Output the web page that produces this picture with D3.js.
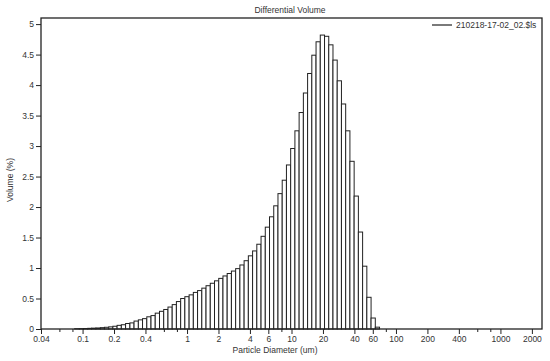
<!DOCTYPE html>
<html>
<head>
<meta charset="utf-8">
<script src="https://cdn.jsdelivr.net/npm/d3@7"></script>
<style>
  body { margin: 0; background: #fff; }
  svg { display: block; }
  text { font-family: "Liberation Sans", Arial, sans-serif; fill: #333; }
</style>
</head>
<body>
<svg></svg>
<script>
const width = 550;
const height = 361;

// channel edges (um), one more than the number of bars
const edges = [0.084, 0.093, 0.102, 0.112, 0.122, 0.134, 0.148, 0.162, 0.178, 0.195,
	0.214, 0.235, 0.258, 0.284, 0.311, 0.342, 0.375, 0.412, 0.452, 0.496,
	0.545, 0.598, 0.657, 0.721, 0.791, 0.869, 0.953, 1.047, 1.149, 1.261,
	1.385, 1.520, 1.669, 1.832, 2.011, 2.208, 2.423, 2.66, 2.92, 3.206,
	3.519, 3.863, 4.241, 4.656, 5.111, 5.611, 6.159, 6.761, 7.422, 8.148,
	8.944, 9.819, 10.78, 11.83, 12.99, 14.26, 15.65, 17.18, 18.86, 20.71,
	22.73, 24.95, 27.39, 30.07, 33.01, 36.24, 39.78, 43.67, 47.94, 52.62,
	57.77, 63.41, 69.61];

// volume (%) per channel
const volume = [0.005, 0.006, 0.008, 0.011, 0.014, 0.017, 0.022, 0.028, 0.035, 0.045,
	0.06, 0.07, 0.09, 0.10, 0.13, 0.15, 0.17, 0.20, 0.22, 0.26,
	0.29, 0.32, 0.36, 0.40, 0.45, 0.50, 0.53, 0.56, 0.60, 0.63,
	0.67, 0.71, 0.75, 0.79, 0.83, 0.87, 0.91, 0.95, 0.99, 1.05,
	1.12, 1.20, 1.28, 1.39, 1.52, 1.67, 1.84, 2.02, 2.22, 2.44,
	2.69, 2.96, 3.25, 3.55, 3.87, 4.19, 4.49, 4.71, 4.82, 4.80,
	4.66, 4.41, 4.07, 3.69, 3.25, 2.75, 2.18, 1.59, 1.03, 0.52,
	0.18, 0.03];

const xTicks = [0.04, 0.1, 0.2, 0.4, 1, 2, 4, 6, 10, 20, 40, 60, 100, 200, 400, 1000, 2000];
const xMinorTicks = [0.06, 0.08, 0.6, 0.8, 8, 80, 600, 800];
const yTicks = [0, 0.5, 1, 1.5, 2, 2.5, 3, 3.5, 4, 4.5, 5];

const plot = { left: 41, right: 542, top: 18, bottom: 329 };
const fontSize = '8.5px';
const ink = '#222';

const svg = d3.select('svg')
	.attr('width', width)
	.attr('height', height);

const x = d3.scaleLog()
	.domain([0.04, 2500])
	.range([plot.left, plot.right]);
const y = d3.scaleLinear()
	.domain([0, 5.1])
	.range([plot.bottom, plot.top]);

// bars
const bars = volume.map((v, i) => ({ lo: edges[i], hi: edges[i + 1], v }));
svg.append('g')
	.selectAll('rect')
	.data(bars)
	.enter().append('rect')
		.attr('x', d => x(d.lo))
		.attr('width', d => x(d.hi) - x(d.lo))
		.attr('y', d => y(d.v))
		.attr('height', d => y(0) - y(d.v))
		.attr('fill', '#fff')
		.attr('stroke', ink)
		.attr('stroke-width', 1);

// frame
svg.append('rect')
	.attr('x', plot.left)
	.attr('y', plot.top)
	.attr('width', plot.right - plot.left)
	.attr('height', plot.bottom - plot.top)
	.attr('fill', 'none')
	.attr('stroke', ink)
	.attr('stroke-width', 1.3);

function styleAxis(g) {
	g.select('.domain').remove();
	g.selectAll('line').attr('stroke', ink);
	g.selectAll('text')
		.style('font-size', fontSize)
		.attr('fill', '#333');
}

svg.append('g')
	.attr('transform', `translate(${plot.left},0)`)
	.call(d3.axisLeft(y).tickValues(yTicks).tickSize(5).tickPadding(2).tickFormat(d3.format('~g')))
	.call(styleAxis);

svg.append('g')
	.attr('transform', `translate(0,${plot.bottom})`)
	.call(d3.axisBottom(x).tickValues(xTicks).tickSize(5).tickPadding(2).tickFormat(d3.format('~g')))
	.call(styleAxis);

svg.append('g')
	.attr('transform', `translate(0,${plot.bottom})`)
	.call(d3.axisBottom(x).tickValues(xMinorTicks).tickSize(3).tickFormat(''))
	.call(styleAxis);

// titles
svg.append('text')
	.attr('x', 290)
	.attr('y', 13)
	.attr('text-anchor', 'middle')
	.style('font-size', fontSize)
	.text('Differential Volume');

svg.append('text')
	.attr('x', 275)
	.attr('y', 353)
	.attr('text-anchor', 'middle')
	.style('font-size', fontSize)
	.text('Particle Diameter (um)');

svg.append('text')
	.attr('transform', 'translate(13,180) rotate(-90)')
	.attr('text-anchor', 'middle')
	.style('font-size', fontSize)
	.text('Volume (%)');

// legend
const legend = svg.append('g').attr('transform', 'translate(432,25)');
legend.append('line')
	.attr('x1', 0).attr('x2', 20)
	.attr('stroke', ink)
	.attr('stroke-width', 1.2);
legend.append('text')
	.attr('x', 24)
	.attr('dy', '0.32em')
	.style('font-size', fontSize)
	.text('210218-17-02_02.$ls');
</script>
</body>
</html>
